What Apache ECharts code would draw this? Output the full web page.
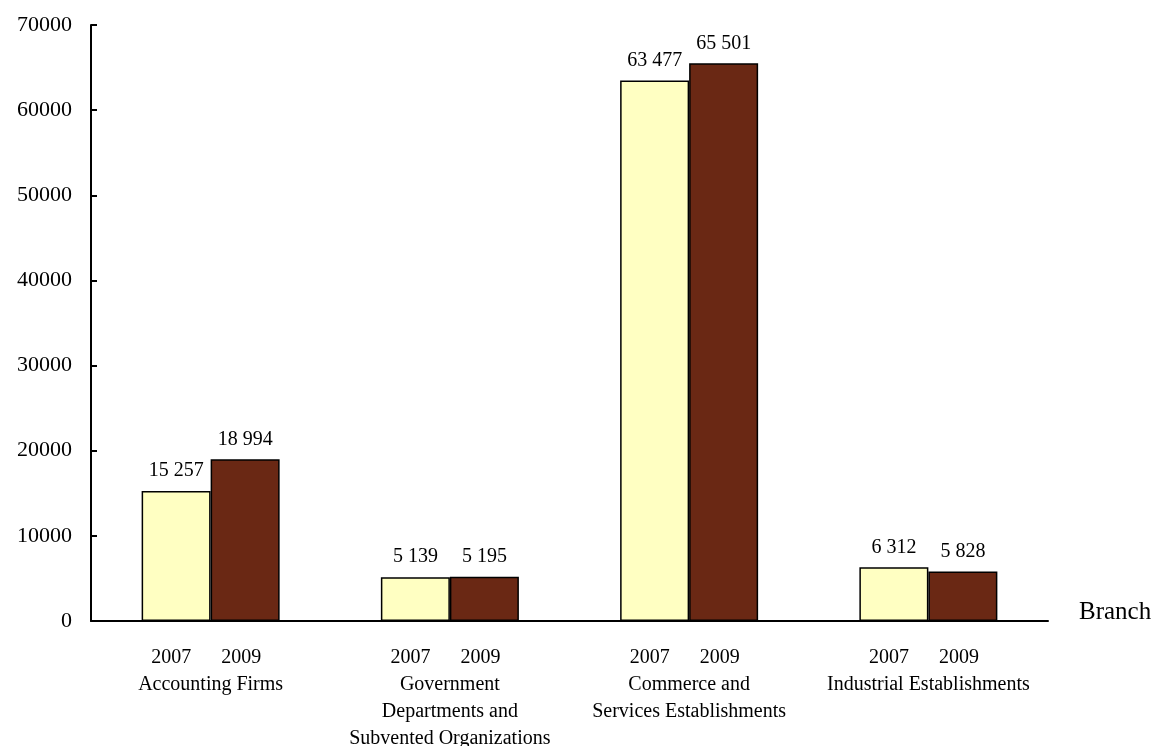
<!DOCTYPE html>
<html>
<head>
<meta charset="utf-8">
<script src="https://cdn.jsdelivr.net/npm/echarts@6/dist/echarts.min.js"></script>
<style>
  html, body { margin: 0; padding: 0; background: #fff; }
  #chart { width: 1158px; height: 746px; }
</style>
</head>
<body>
<div id="chart"></div>
<script>
// Employment by branch, 2007 vs 2009
const categories = [
  'Accounting Firms',
  'Government\nDepartments and\nSubvented Organizations',
  'Commerce and\nServices Establishments',
  'Industrial Establishments'
];
const years = ['2007', '2009'];
const values2007 = [15257, 5139, 63477, 6312];
const values2009 = [18994, 5195, 65501, 5828];
const yTicks = { min: 0, max: 70000, interval: 10000 };

const FONT = '"Liberation Serif", "Times New Roman", serif';

// Thousands separated by a space, e.g. 15 257
function fmt(v) {
  return String(v).replace(/\B(?=(\d{3})+(?!\d))/g, ' ');
}

function categoryLabel(name) {
  const lines = name.split('\n').map(l => '{n|' + l + '}').join('\n');
  return '{y|' + years[0] + '}{y|' + years[1] + '}{p|}\n' + lines;
}

const chart = echarts.init(document.getElementById('chart'));

const barStyle = (color) => ({
  color: color,
  borderColor: '#000',
  borderWidth: 1.5
});

const labelStyle = {
  show: true,
  position: 'top',
  distance: 10,
  color: '#000',
  fontFamily: FONT,
  fontSize: 20,
  formatter: (p) => fmt(p.value)
};

chart.setOption({
  animation: false,
  backgroundColor: '#fff',
  grid: { left: 91, right: 110, top: 25, bottom: 125, containLabel: false, outerBoundsMode: 'none' },
  xAxis: {
    type: 'category',
    data: categories,
    name: 'Branch',
    nameLocation: 'end',
    nameGap: 31,
    nameTextStyle: {
      color: '#000',
      fontFamily: FONT,
      fontSize: 25,
      lineHeight: 18,
      verticalAlign: 'bottom'
    },
    axisLine: { lineStyle: { color: '#000', width: 2 } },
    axisTick: { show: false },
    axisLabel: {
      interval: 0,
      margin: 23,
      color: '#000',
      fontFamily: FONT,
      fontSize: 20,
      lineHeight: 27,
      formatter: categoryLabel,
      rich: {
        y: { width: 70, align: 'center', fontFamily: FONT, fontSize: 20, lineHeight: 27, color: '#000' },
        p: { width: 9, fontSize: 20, lineHeight: 27 },
        n: { fontFamily: FONT, fontSize: 20, lineHeight: 27, color: '#000' }
      }
    },
    splitLine: { show: false }
  },
  yAxis: {
    type: 'value',
    min: yTicks.min,
    max: yTicks.max,
    interval: yTicks.interval,
    axisLine: { show: true, lineStyle: { color: '#000', width: 2 } },
    axisTick: { show: true, inside: true, length: 6, lineStyle: { color: '#000', width: 2 } },
    axisLabel: {
      color: '#000',
      fontFamily: FONT,
      fontSize: 22,
      margin: 19,
      formatter: (v) => String(v)
    },
    splitLine: { show: false }
  },
  series: [
    {
      name: years[0],
      type: 'bar',
      data: values2007,
      barWidth: 69,
      barGap: '0%',
      itemStyle: barStyle('#FFFFC2'),
      label: labelStyle
    },
    {
      name: years[1],
      type: 'bar',
      data: values2009,
      barWidth: 69,
      barGap: '0%',
      itemStyle: barStyle('#6A2814'),
      label: labelStyle
    }
  ]
});
</script>
</body>
</html>
